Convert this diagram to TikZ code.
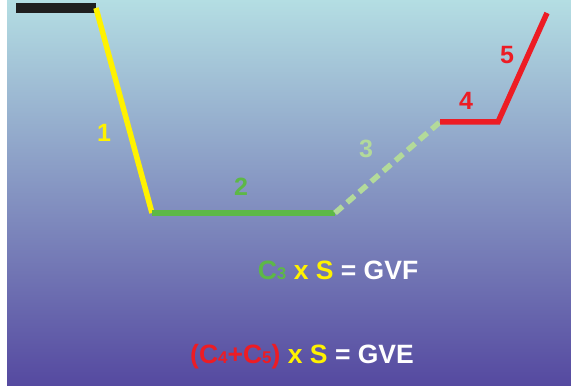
\documentclass[tikz,border=0pt]{standalone}
\usepackage{fontspec}
\setmainfont{Liberation Sans}
\usetikzlibrary{positioning}
\definecolor{bgtop}{HTML}{B4DEE3}
\definecolor{bgmid}{HTML}{8A9CC7}
\definecolor{bgbot}{HTML}{5549A0}
\definecolor{segyellow}{HTML}{FFF200}
\definecolor{seggreen}{HTML}{5DB847}
\definecolor{segpale}{HTML}{B3DA9A}
\definecolor{segred}{HTML}{ED1C24}
\newcommand{\sm}[1]{{\fontsize{17}{17}\selectfont #1}}
\begin{document}
\begin{tikzpicture}[x=1pt,y=1pt,seg/.style={line width=5.5pt},lbl/.style={font=\fontsize{25}{28}\selectfont\bfseries,inner sep=0pt},eqn/.style={lbl,font=\fontsize{26.5}{30}\selectfont\bfseries,text=white}]
\useasboundingbox (0,0) rectangle (571,386);
\shade[top color=bgtop, middle color=bgmid, bottom color=bgbot] (7,0) rectangle (571,386);
\coordinate (s0) at (16,378);\coordinate (s1) at (96,378);\coordinate (s2) at (152,173);\coordinate (s3) at (335,173);\coordinate (s4) at (440,264);\coordinate (s5) at (498,264);\coordinate (s6) at (547,373);
\draw[line width=10pt, draw=black!88] (s0) -- (s1);
\draw[seg, segyellow] (s1) -- (s2);
\draw[seg, seggreen] (s2) -- (s3);
\draw[seg, segpale, dash pattern=on 10pt off 6pt] (s3) -- (s4);
\draw[seg, segred, line join=miter] (s4) -- (s5) -- (s6);
\node[lbl, text=segyellow] (n1) at (104,253) {1};
\node[lbl, text=seggreen] (n2) at (241,199) {2};
\node[lbl, text=segpale] (n3) at (366,237) {3};
\node[lbl, text=segred] (n4) at (466,285) {4};
\node[lbl, text=segred] (n5) at (507,331) {5};
\node[eqn] (gvf) at (338,116) {\textcolor{seggreen}{C\sm{3}} \textcolor{segyellow}{x S} = GVF};
\node[eqn] (gve) at (302,29) {\textcolor{segred}{(C\sm{4}+C\sm{5})} \textcolor{segyellow}{x S} = GVE};
\end{tikzpicture}
\end{document}
